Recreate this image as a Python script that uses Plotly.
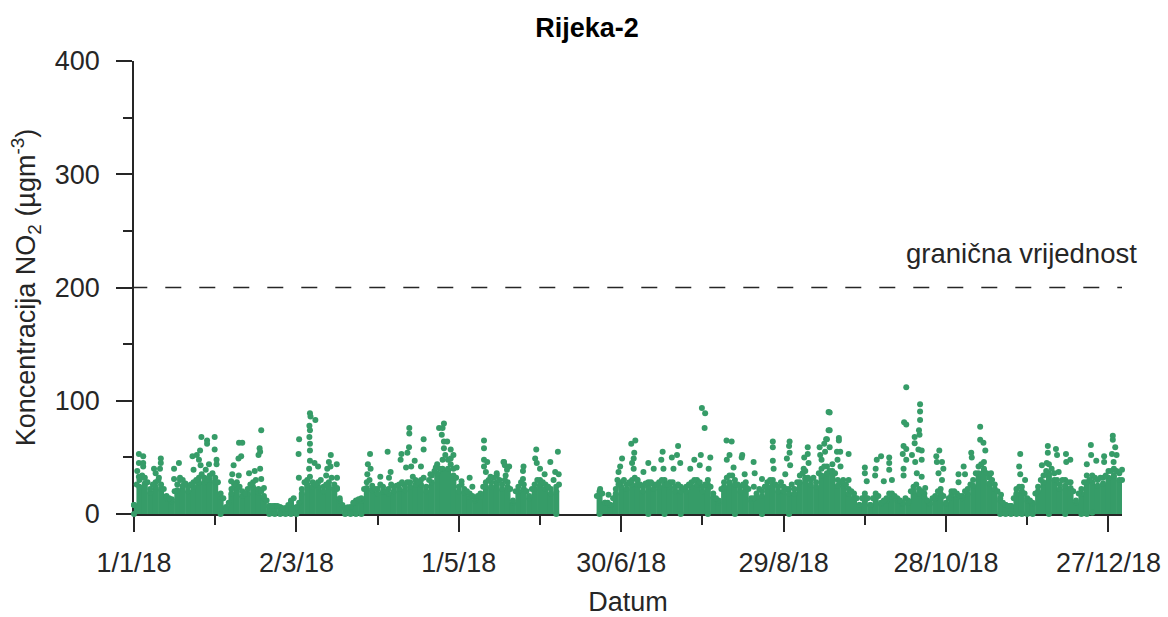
import plotly.graph_objects as go

TITLE = "Rijeka-2"
Y_LABEL = "Koncentracija NO<sub>2</sub> (µgm<sup>-3</sup>)"
X_LABEL = "Datum"
LIMIT_LABEL = "granična vrijednost"
TICK_DAYS = [0, 60, 120, 180, 240, 300, 360]
TICK_LABELS = ["1/1/18", "2/3/18", "1/5/18", "30/6/18", "29/8/18", "28/10/18", "27/12/18"]
LIMIT_DAYS = [-1, 365]
LIMIT_VALUES = [200, 200]

# Solid band of hourly values, read per two-day step (day of year, top, bottom)
band_days_a = [0,2,4,6,8,10,12,14,16,18,20,22,24,26,28,30,32,34,36,38,40,42,44,46,48,50,52,54,56,58,60,62,64,66,68,70,72,74,76,78,
               80,82,84,86,88,90,92,94,96,98,100,102,104,106,108,110,112,114,116,118,120,122,124,126,128,130,132,134,136,138,140,142,144,146,148,150,152,154,156]
band_top_a = [8,24,27,19,24,22,14,11,21,25,20,24,28,28,30,28,15,6,18,23,16,18,24,19,14,7,7,6,5,10,6,18,26,24,24,20,24,22,12,5,
              6,10,12,23,21,18,20,18,20,22,21,24,26,26,20,28,36,40,40,34,20,19,15,12,15,24,24,28,22,24,10,20,22,14,22,26,22,18,20]
band_low_a = [0,-1,-2,-2,-1,-2,-1,-1,-1,-1,-2,-3,-2,-1,-1,-1,0,-1,-1,-1,-1,-1,-1,-1,-1,0,0,0,0,0,0,-1,-1,-1,-1,-2,-1,-1,-1,0,
              0,0,0,-1,-1,-1,-2,-1,-1,-1,-1,-1,-1,-1,-1,-2,-1,-1,-1,-1,-1,-1,-1,-2,-1,-1,-1,-1,-1,-1,-1,-1,-1,-1,-1,-1,-1,-1,0]
band_days_b = [172,174,176,178,180,182,184,186,188,190,192,194,196,198,200,202,204,206,208,210,212,214,216,218,220,222,224,226,228,230,232,234,236,238,240,242,244,246,248,250,252,254,256,
               258,260,262,264,266,268,270,272,274,276,278,280,282,284,286,288,290,292,294,296,298,300,302,304,306,308,310,312,314,316,318,320,322,324,326,328,330,332,334,336,338,340,342,344,346,348,350,352,354,356,358,360,362,364]
band_top_b = [18,10,8,18,24,22,26,26,20,24,22,24,26,24,20,20,20,24,26,20,26,15,10,24,28,26,20,24,12,15,16,24,26,20,20,18,18,28,32,26,24,34,36,
              38,25,25,18,15,8,15,8,15,9,12,15,12,9,10,20,18,15,9,14,18,9,17,15,14,18,25,36,40,27,22,12,8,7,18,20,12,9,20,28,36,30,22,25,23,10,18,28,28,25,27,32,34,30]
band_low_b = [0,-1,-1,-1,-1,-1,-1,-1,-1,0,-1,-1,0,-1,-1,0,-1,-1,-1,-1,0,-1,-1,-1,-1,0,-1,-1,-1,-1,0,-1,-1,-1,-1,0,-1,-1,-1,-1,-1,-1,-1,
              -1,-1,-1,-1,-2,-1,-1,-1,-2,-2,-1,-1,-1,-1,-1,-1,-1,-1,-1,-1,-1,-1,-1,-1,-1,-1,-1,-1,-1,-1,-1,0,0,0,0,0,0,0,-1,-1,0,-1,-1,0,-1,-1,0,0,1,-1,-1,-1,-1,-1]

# Upper edge of the dense cloud on even days
edge_even_a = [8,30,32,22,28,26,16,13,26,30,24,28,32,32,34,32,18,6,22,28,20,22,28,22,16,7,7,6,5,12,6,22,30,28,28,24,28,26,14,5,
               6,12,14,28,25,22,24,22,24,26,25,28,30,30,24,34,44,48,48,40,24,22,18,14,18,28,28,34,26,28,12,24,26,16,26,30,26,22,24]
edge_even_b = [20,10,8,22,28,26,30,30,24,28,26,28,30,28,24,24,24,28,30,24,30,18,12,28,34,30,24,28,14,18,20,28,30,24,24,22,22,34,38,30,28,40,42,
               44,30,30,22,18,8,18,8,18,10,14,18,14,10,12,24,22,18,10,16,22,10,20,18,16,22,30,42,46,32,26,14,8,7,22,24,14,10,24,34,44,36,26,30,28,12,22,34,34,30,32,38,40,36]

# Upper edge of the dense cloud on odd days
odd_days = [1,3,5,7,9,11,13,15,17,19,21,23,25,27,29,31,33,35,37,39,41,43,45,47,49,51,53,55,57,59,61,63,65,67,69,71,73,75,77,79,
            81,83,85,87,89,91,93,95,97,99,101,103,105,107,109,111,113,115,117,119,121,123,125,127,129,131,133,135,137,139,141,143,145,147,149,151,153,155,157,
            171,173,175,177,179,181,183,185,187,189,191,193,195,197,199,201,203,205,207,209,211,213,215,217,219,221,223,225,227,229,231,233,235,237,239,241,243,245,247,249,251,253,255,257,259,
            261,263,265,267,269,271,273,275,277,279,281,283,285,287,289,291,293,295,297,299,301,303,305,307,309,311,313,315,317,319,321,323,325,327,329,331,333,335,337,339,341,343,345,347,349,351,353,355,357,359,361,363,365]
odd_values = [26,34,28,26,30,22,14,20,30,27,26,30,35,30,36,28,14,10,26,24,18,26,30,20,12,7,7,5,8,14,10,28,33,26,30,26,32,22,8,6,
              10,13,22,30,22,26,20,26,25,28,28,33,28,32,30,38,40,52,44,32,26,20,16,16,24,30,32,30,30,22,20,28,20,22,30,28,24,30,26,
              16,18,10,14,26,30,28,32,26,27,28,26,30,26,28,26,22,26,30,28,26,24,14,22,32,34,26,26,22,14,22,24,30,26,28,22,26,28,36,32,32,36,42,38,36,
              28,26,20,14,14,14,14,16,12,18,16,12,14,20,26,20,12,14,20,16,14,20,16,20,26,36,44,36,30,20,10,7,14,24,18,12,18,30,38,40,30,30,28,20,18,28,30,32,32,34,38,38,30]

# Individual readings standing above the band (day of year, NO2)
peak_days = [1.8,3.4,1.8,3.4,3.4,1.2,1.8,3.7,7.4,8,9.9,9.9,9.6,9.2,14.8,16.6,14.8,17,21.6,24.9,27,27,29.8,29.8,24.4,23.2,24,24.6,22,27.7,30.5,30.5,26.5,
             36.8,38.8,40,39.6,38.6,36.3,35.9,38.7,47,46.4,46.6,46,46.6,44.6,42.5,47,48,61,60.8,65,65.2,67,64.8,65,64.8,65,65,65,66.7,68,64.7,60.9,
             72.7,72,74.9,71.4,72.6,71,75,75,87.2,86.4,87.4,86.2,91,93.7,94.8,94.2,98.8,98.5,101,101.6,101.7,101.7,103.7,100.5,102.4,106,107,107,109.5,
             111.5,112.7,114.5,114,113.7,114.5,115.7,114.5,117,117,118,119.2,121,124,125,129.3,129.3,129.3,130.5,129.3,130,134,131.7,136.7,138.6,137.3,
             136.5,137,137.8,143.9,143.7,143.7,148.6,148.2,148.8,150,151.7,153.8,156.6,155.6,156.9,175.3,172.2,
             180.3,179.6,179,178.6,183.7,185.2,184.8,184.6,184,184.6,186,190,188.2,192,195.3,194.8,195.6,198.7,201,200.6,199.3,201.8,207,205.5,209.4,209,212.9,212.3,209.8,211,210.8,
             218.9,220.8,220,219,224.7,224.5,221.5,225.6,228.9,229.3,229,232,236,236,236,236.3,242.2,242,242.2,241.2,242.4,240.6,248.9,248.9,247.6,249.2,247.4,253.3,253.5,256.6,256.6,255.7,254,
             257,257,260.4,260.4,256,255,257,255.3,260.9,259.7,264,259.9,261,264,270,270,270.7,274.4,276,274,273.8,279,279,279,280,277,
             285.3,284.5,285.3,284.3,285.3,284,285.3,284.3,284.3,290.4,290.4,290.4,290,290.2,288.4,288.4,289.8,291,287.4,291,288.6,289.2,291,292.3,
             297.5,296.4,296.6,298.5,299,297.2,298.5,312.6,312.6,313.8,314.5,309.3,309.5,306.5,304.6,307,304.6,316.6,320.3,327.4,327,327.4,329.2,
             337.6,340.6,337.6,341,344.3,345.9,344.4,335.4,337.2,341.6,353.5,353.6,355.5,358.4,358.4,352,361.6,361.6,362.5,361.3,363,361.9,365,365.5]
peak_values = [53,51,45,45,42,38,33,32,40,36,49,45,40,32,40,45,31,32,51,68,65,62,68,57,56,52,48,43,39,44,48,44,39,
               43,63,63,51,49,35,29,34,74,58,55,52,40,38,36,31,23,66,53,89,86,83,78,74,68,62,56,47,45,42,40,32,
               52,46,44,40,42,34,32,23,53,44,40,35,33,55,37,32,53,48,54,59,76,71,47,41,42,42,66,57,35,
               41,76,80,76,70,64,64,58,57,49,52,41,29,32,24,65,58,48,46,42,37,36,33,46,42,34,
               46,43,39,42,38,31,57,49,45,40,35,46,55,37,35,17,22,
               49,42,37,30,62,65,54,49,45,40,30,45,37,40,55,48,40,50,60,52,40,45,48,40,52,43,50,40,93.5,89,76,
               65,64,52,48,52,50,41,35,46,36,24,31,64,59,47,40,64,60,54,49,43,35,59,53,50,45,40,59,52,90,74,66,48,
               89.7,74,67,65,66,62,59,55,55,55,53,48,42,30,41,36,29,48,51,40,34,50,45,39,30,29,
               112,81,79,60,57.5,53,48,40,34,97,90.5,83,74,70,68,62.5,57,56,52,48,46,36,33,23,
               56,51,46,46,40,36,30,77,65.5,63,56,54,50,42,35,35,28,36,17,53,42,35,30,
               60,57.5,54,52,53,48,46,43,45,37,61,52,47,51,46,44,69,65.5,59,53,52,46,39,26]

band_days = band_days_a + [None] + band_days_b
band_top = band_top_a + [None] + band_top_b
band_low = band_low_a + [None] + band_low_b
band_depth = [None if t is None else t - l for t, l in zip(band_top, band_low)]
edge_days = band_days_a + band_days_b
edge_even = edge_even_a + edge_even_b

GREEN = "#369c68"
INK = "#262626"
FONT = "Liberation Sans, Arial, sans-serif"
MARK = dict(color=GREEN, size=6)

fig = go.Figure()
fig.add_trace(go.Scatter(x=band_days, y=band_top, mode="markers", marker=MARK,
                         error_y=dict(type="data", symmetric=False,
                                      array=[None if d is None else 0 for d in band_depth],
                                      arrayminus=band_depth, color=GREEN, thickness=6, width=0),
                         cliponaxis=False, showlegend=False))
for xs, ys in [(band_days, band_low), (edge_days, edge_even), (odd_days, odd_values), (peak_days, peak_values)]:
    fig.add_trace(go.Scatter(x=xs, y=ys, mode="markers", marker=MARK, cliponaxis=False, showlegend=False))
fig.add_trace(go.Scatter(x=LIMIT_DAYS, y=LIMIT_VALUES, mode="lines",
                         line=dict(color=INK, width=1.3, dash="16px,18px"), cliponaxis=False, showlegend=False))

axis_common = dict(showgrid=False, zeroline=False, showline=True, linecolor=INK, linewidth=1.5,
                   ticks="outside", tickcolor=INK, tickwidth=1.5, ticklen=16, automargin=False,
                   layer="below traces", tickfont=dict(family=FONT, size=27, color=INK))

fig.update_layout(
    width=1168, height=617, margin=dict(l=133.5, r=46, t=61, b=103, pad=0),
    paper_bgcolor="white", plot_bgcolor="white",
    title=dict(text="<b>" + TITLE + "</b>", x=587 / 1168, xref="container", xanchor="center",
               y=1 - 28 / 617, yref="container", yanchor="middle", font=dict(family=FONT, size=27, color="black")),
    font=dict(family=FONT, color=INK),
    xaxis=dict(range=[0, 365], tickmode="array", tickvals=TICK_DAYS, ticktext=TICK_LABELS, ticklabelstandoff=8,
               minor=dict(dtick=30, tick0=0, ticks="outside", ticklen=9, tickcolor=INK, tickwidth=1.5),
               title=dict(text=X_LABEL, font=dict(family=FONT, size=27, color=INK), standoff=19),
               **axis_common),
    yaxis=dict(range=[0, 400], tickmode="array", tickvals=[0, 100, 200, 300, 400], ticklabelstandoff=11,
               minor=dict(dtick=50, tick0=0, ticks="outside", ticklen=9, tickcolor=INK, tickwidth=1.5),
               title=dict(text=Y_LABEL, font=dict(family=FONT, size=27, color=INK), standoff=11),
               **axis_common),
    annotations=[dict(x=328, y=230, xref="x", yref="y", text=LIMIT_LABEL, showarrow=False,
                      font=dict(family=FONT, size=27.5, color=INK))],
)

assert len(odd_days) == len(odd_values) and len(peak_days) == len(peak_values)
assert len(edge_days) == len(edge_even) and len(band_top) == len(band_days) == len(band_low)
fig.write_html("out.html", post_script="document.body.style.margin='0';", config={"displayModeBar": False})
